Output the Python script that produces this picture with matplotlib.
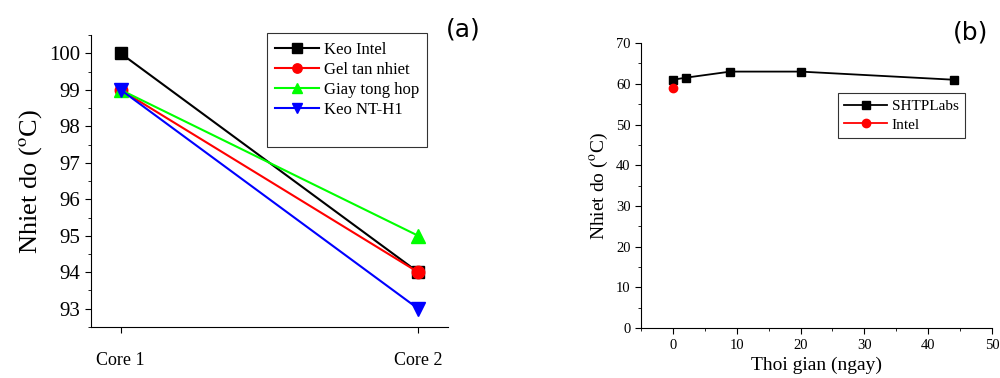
import numpy as np
import matplotlib.pyplot as plt
from matplotlib.ticker import MultipleLocator
from matplotlib.lines import Line2D

plt.rcParams['font.family'] = 'Liberation Serif'
plt.rcParams['mathtext.fontset'] = 'stix'

cores = ['Core 1', 'Core 2']
keo_intel = [100, 94]
gel_tan_nhiet = [99, 94]
giay_tong_hop = [99, 95]
keo_nt_h1 = [99, 93]

days = [0, 2, 9, 20, 44]
shtplabs = [61, 61.5, 63, 63, 61]
intel_day = [0]
intel_temp = [59]

fig = plt.figure(figsize=(10, 3.78), dpi=100)

# (a)
ax1 = fig.add_axes([0.091, 0.135, 0.357, 0.772])
xp = np.arange(len(cores))
ax1.plot(xp, keo_intel, color='black', marker='s', ms=9, lw=1.5, label='Keo Intel')
ax1.plot(xp, gel_tan_nhiet, color='red', marker='o', ms=9, lw=1.5, label='Gel tan nhiet')
ax1.plot(xp, giay_tong_hop, color='#00ff00', marker='^', ms=10, lw=1.5, label='Giay tong hop')
ax1.plot(xp, keo_nt_h1, color='blue', marker='v', ms=10, lw=1.5, label='Keo NT-H1')
ax1.set_xlim(-0.1, 1.1)
ax1.set_ylim(92.5, 100.5)
ax1.set_xticks(xp)
ax1.set_xticklabels(cores, fontsize=13)
ax1.yaxis.set_major_locator(MultipleLocator(1))
ax1.yaxis.set_minor_locator(MultipleLocator(0.5))
ax1.tick_params(axis='y', labelsize=15)
ax1.tick_params(axis='x', pad=14)
ax1.set_ylabel('Nhiet do ($^{\\mathrm{o}}$C)', fontsize=19)
for s in ['top', 'right']:
    ax1.spines[s].set_visible(False)
handles, labels = ax1.get_legend_handles_labels()
blank = Line2D([], [], color='none')
leg = ax1.legend(handles + [blank], labels + [' '],
                 loc='upper left', bbox_to_anchor=(0.47, 1.035),
                 prop={'family': 'Liberation Serif', 'size': 12},
                 fancybox=False, edgecolor='black', handlelength=2.6,
                 handletextpad=0.3, markerscale=0.75,
                 borderpad=0.5, labelspacing=0.25)
leg.get_frame().set_linewidth(0.8)
ax1.text(1.09, 1.06, '(a)', transform=ax1.transAxes, fontsize=18,
         family='DejaVu Sans', ha='right', va='top')

# (b)
ax2 = fig.add_axes([0.641, 0.132, 0.351, 0.754])
ax2.plot(days, shtplabs, color='black', marker='s', ms=6, lw=1.3, label='SHTPLabs')
ax2.plot(intel_day, intel_temp, color='red', marker='o', ms=6, lw=1.3, label='Intel')
ax2.set_xlim(-5, 50)
ax2.set_ylim(0, 70)
ax2.xaxis.set_major_locator(MultipleLocator(10))
ax2.xaxis.set_minor_locator(MultipleLocator(5))
ax2.yaxis.set_major_locator(MultipleLocator(10))
ax2.yaxis.set_minor_locator(MultipleLocator(5))
ax2.tick_params(labelsize=10.5)
ax2.set_xlabel('Thoi gian (ngay)', fontsize=14)
ax2.set_ylabel('Nhiet do ($^{\\mathrm{o}}$C)', fontsize=14)
for s in ['top', 'right']:
    ax2.spines[s].set_visible(False)
leg2 = ax2.legend(loc='upper left', bbox_to_anchor=(0.54, 0.85),
                  prop={'family': 'Liberation Serif', 'size': 11},
                  fancybox=False, edgecolor='black', handlelength=2.8,
                  handletextpad=0.3,
                  borderpad=0.4, labelspacing=0.3)
leg2.get_frame().set_linewidth(0.8)
ax2.text(0.99, 1.08, '(b)', transform=ax2.transAxes, fontsize=18,
         family='DejaVu Sans', ha='right', va='top')

for ax in (ax1, ax2):
    ax.tick_params(which='both', direction='out')
    ax.tick_params(which='major', length=4)
    ax.tick_params(which='minor', length=2.5)

plt.savefig('out.png', dpi=100)
